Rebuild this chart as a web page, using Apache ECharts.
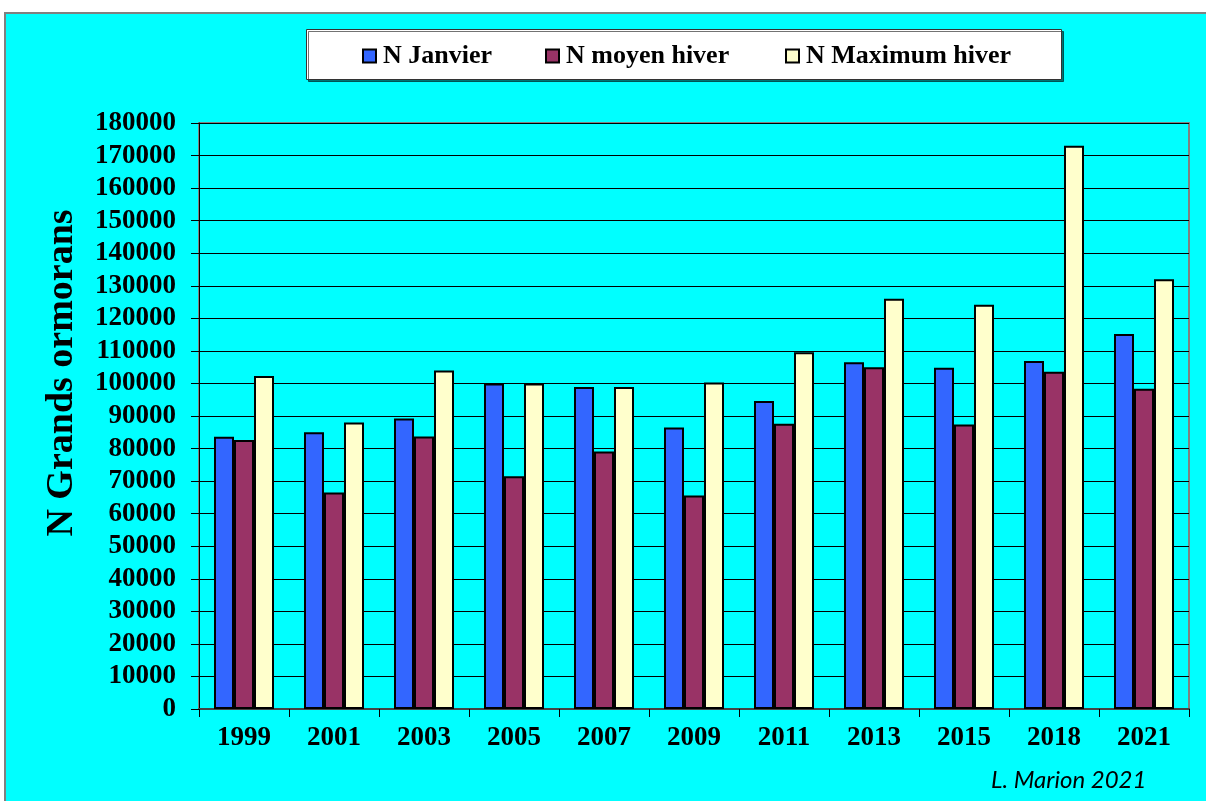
<!DOCTYPE html>
<html>
<head>
<meta charset="utf-8">
<script src="https://cdn.jsdelivr.net/npm/echarts@6/dist/echarts.min.js"></script>
<style>
html,body{margin:0;padding:0;background:#fff;}
#chart{width:1206px;height:801px;}
</style>
</head>
<body>
<div id="chart"></div>
<script>
const years = ['1999','2001','2003','2005','2007','2009','2011','2013','2015','2018','2021'];
const nJanvier = [83600, 85000, 89200, 100000, 98900, 86500, 94600, 106500, 104800, 106900, 115200];
const nMoyenHiver = [82600, 66500, 83700, 71500, 79100, 65600, 87600, 105000, 87400, 103600, 98400];
const nMaximumHiver = [102300, 88000, 104000, 100000, 98900, 100300, 109600, 126000, 124200, 173000, 132000];
const seriesNames = ['N Janvier', 'N moyen hiver', 'N Maximum hiver'];
const yTitle = 'N Grands ormorans';
const credit = 'L. Marion 2021';

const serif = '"Liberation Serif","Times New Roman",serif';
const chart = echarts.init(document.getElementById('chart'), null, {renderer: 'canvas'});

function bar(name, data, color) {
  return {
    name: name, type: 'bar', data: data,
    barWidth: 20, barGap: '0%',
    itemStyle: {color: color, borderColor: '#000', borderWidth: 2},
    emphasis: {disabled: true}
  };
}

const legendLefts = [362, 545, 785];
const legends = seriesNames.map((n, i) => ({
  left: legendLefts[i], top: 43, padding: 0,
  itemWidth: 13, itemHeight: 13, icon: 'rect',
  textStyle: {fontFamily: serif, fontWeight: 'bold', fontSize: 26, color: '#000', padding: [0, 0, 0, 2]},
  data: [n]
}));

chart.setOption({
  animation: false,
  backgroundColor: '#fff',
  graphic: [
    {type: 'rect', z: -10, shape: {x: 5, y: 13, width: 1210, height: 800},
     style: {fill: '#00FFFF', stroke: '#808080', lineWidth: 2}},
    {type: 'rect', z: -5, shape: {x: 306.5, y: 29.5, width: 755, height: 50},
     style: {fill: '#fff', stroke: '#333', lineWidth: 1,
             shadowColor: 'rgba(0,0,0,0.55)', shadowOffsetX: 2, shadowOffsetY: 2, shadowBlur: 0}},
    {type: 'text', left: 991, top: 768, z: 10,
     style: {text: credit, font: 'italic 24px Lato, "Open Sans", sans-serif', fill: '#000'}},
    {type: 'text', z: 10, x: 62, y: 373, rotation: Math.PI / 2, originX: 0, originY: 0,
     style: {text: yTitle, font: 'bold 38px ' + serif, fill: '#000', align: 'center', verticalAlign: 'middle'}}
  ],
  legend: legends,
  grid: {
    left: 199, right: 17, top: 123, bottom: 92,
    show: true, borderColor: '#808080', borderWidth: 2, backgroundColor: 'transparent'
  },
  xAxis: {
    type: 'category', data: years,
    axisLine: {lineStyle: {color: '#444', width: 2}},
    axisTick: {show: true, length: 8, lineStyle: {color: '#000', width: 1}},
    axisLabel: {fontFamily: serif, fontWeight: 'bold', fontSize: 27, color: '#000', margin: 16}
  },
  yAxis: {
    type: 'value', min: 0, max: 180000, interval: 10000,
    axisLine: {show: true, lineStyle: {color: '#000', width: 1}},
    axisTick: {show: true, length: 8, lineStyle: {color: '#000'}},
    axisLabel: {fontFamily: serif, fontWeight: 'bold', fontSize: 27, color: '#000', margin: 23,
                formatter: v => String(v)},
    splitLine: {show: true, lineStyle: {color: '#000', width: 1}}
  },
  series: [
    bar(seriesNames[0], nJanvier, '#3366FF'),
    bar(seriesNames[1], nMoyenHiver, '#993366'),
    bar(seriesNames[2], nMaximumHiver, '#FFFFCC')
  ]
});
</script>
</body>
</html>
